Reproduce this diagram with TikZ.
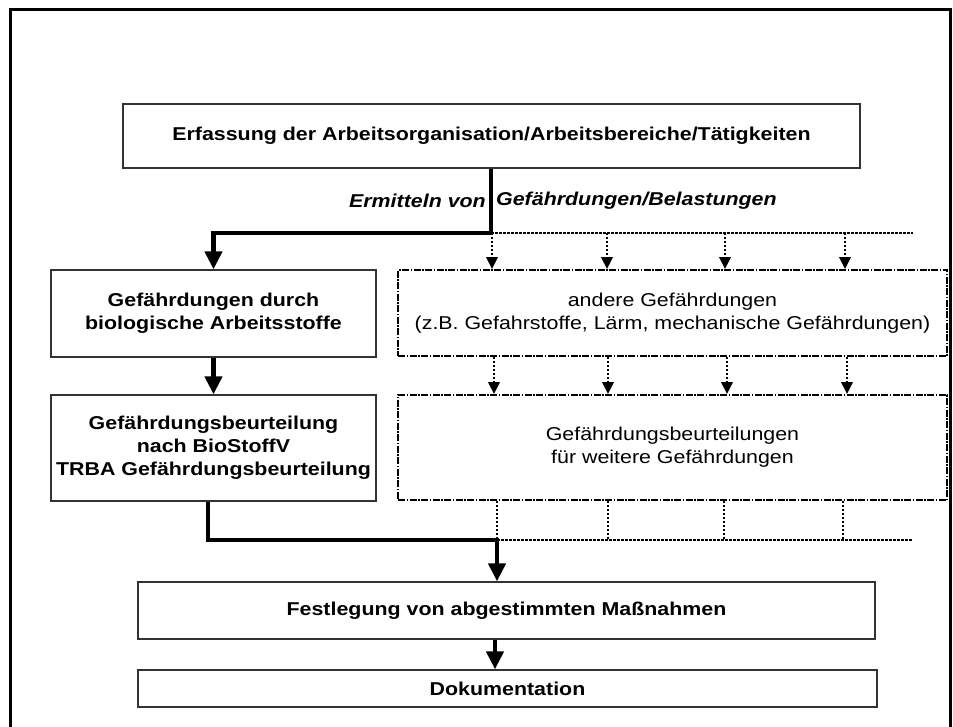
\documentclass[tikz,border=0pt]{standalone}
\usepackage{fontspec}
\setmainfont{Liberation Sans}[FakeStretch=1.15]
\usetikzlibrary{arrows.meta}
\tikzset{
  txt/.style={font=\fontsize{18.6}{23}\selectfont, align=center, inner sep=0pt},
  solidbox/.style={txt, draw=black!80, line width=1.3pt},
  dotbox/.style={txt, draw=black, line width=1.6pt, dash pattern=on 7pt off 1.5pt on 1.5pt off 1.5pt},
  thickline/.style={line width=4.3pt, black},
  thickarrow/.style={thickline, -{Triangle[width=17pt,length=18pt]}},
  dotline/.style={line width=2.8pt, dash pattern=on 2.5pt off 1.5pt},
  dotarrow/.style={dotline, -{Triangle[width=11pt,length=12pt]}},
  lbl/.style={font=\fontsize{18.6}{23}\selectfont\bfseries\itshape, inner sep=0pt}
}
\begin{document}
\begin{tikzpicture}[x=1pt,y=-1pt]
\useasboundingbox (0,0) rectangle (953,727);
% outer frame
\draw[line width=3pt] (10,730) -- (10,10) -- (950.5,10) -- (950.5,730);

% boxes
\node[solidbox, minimum width=737pt, minimum height=64pt] (top) at (491.5,136) {\bfseries Erfassung der Arbeitsorganisation/Arbeitsbereiche/Tätigkeiten};
\node[solidbox, minimum width=325pt, minimum height=87pt] (bio) at (213.5,313.5) {\bfseries Gefährdungen durch\\\bfseries biologische Arbeitsstoffe};
\node[dotbox, minimum width=549pt, minimum height=86pt] (other) at (672.5,313) {andere Gefährdungen\\(z.B. Gefahrstoffe, Lärm, mechanische Gefährdungen)};
\node[solidbox, minimum width=325pt, minimum height=106pt] (gbu) at (213.5,448) {\bfseries Gefährdungsbeurteilung\\\bfseries nach BioStoffV\\\bfseries TRBA Gefährdungsbeurteilung};
\node[dotbox, minimum width=549pt, minimum height=105pt] (gbuo) at (672.5,447.5) {Gefährdungsbeurteilungen\\für weitere Gefährdungen};
\node[solidbox, minimum width=737pt, minimum height=57pt] (fest) at (506.5,610.5) {\bfseries Festlegung von abgestimmten Maßnahmen};
\node[solidbox, minimum width=739pt, minimum height=37pt] (doku) at (507.5,688.5) {\bfseries Dokumentation};

% label
\node[lbl, anchor=east] (lblA) at (486,201) {Ermitteln von};
\node[lbl, anchor=west] (lblB) at (496,201) {Gefährdungen/Belastungen};

% coordinates
\coordinate (j1) at (491,233);
\coordinate (e1) at (913,233);
\coordinate (a1) at (492,233);
\coordinate (a2) at (607,233);
\coordinate (a3) at (725,233);
\coordinate (a4) at (845,233);
\coordinate (m1) at (494,0);
\coordinate (m2) at (608,0);
\coordinate (m3) at (727,0);
\coordinate (m4) at (847,0);
\coordinate (b1) at (497,540);
\coordinate (b2) at (608,540);
\coordinate (b3) at (724,540);
\coordinate (b4) at (843,540);
\coordinate (e2) at (913,540);
\coordinate (c1) at (208,540);
\coordinate (d1) at (495,0);

% thick connectors
\draw[thickarrow] (j1 |- top.south) -- (j1) -| (bio.north);
\draw[thickarrow] (bio.south) -- (gbu.north);
\draw[thickarrow] (c1 |- gbu.south) -- (c1) -- (b1) -- (b1 |- fest.north);
\draw[thickarrow] (d1 |- fest.south) -- (d1 |- doku.north);

% dotted connectors
\draw[dotline] (j1) -- (e1);
\foreach \p in {a1,a2,a3,a4} \draw[dotarrow] (\p) -- (\p |- other.north);
\foreach \p in {m1,m2,m3,m4} \draw[dotarrow] (\p |- other.south) -- (\p |- gbuo.north);
\foreach \p in {b1,b2,b3,b4} \draw[dotline] (\p |- gbuo.south) -- (\p);
\draw[dotline] (b1) -- (e2);
\end{tikzpicture}
\end{document}
